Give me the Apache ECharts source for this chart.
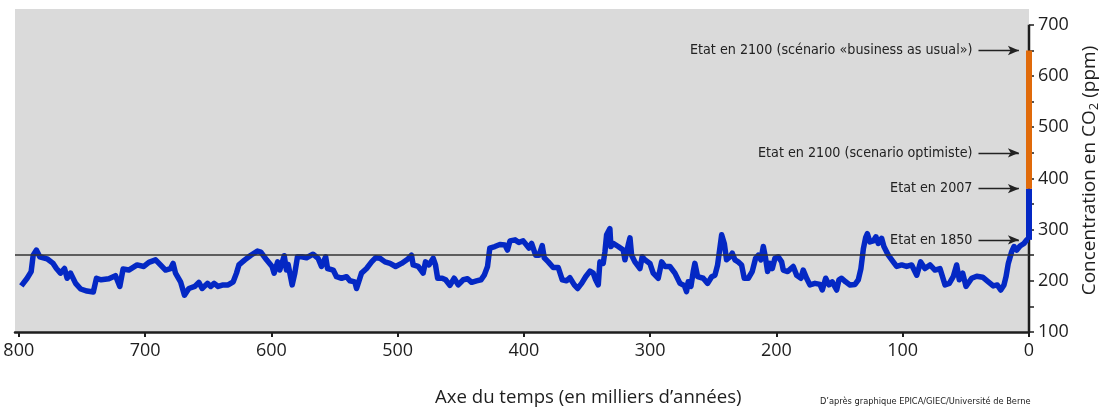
<!DOCTYPE html>
<html>
<head>
<meta charset="utf-8">
<script src="https://cdn.jsdelivr.net/npm/echarts@6/dist/echarts.min.js"></script>
<style>
html,body{margin:0;padding:0;background:#fff;}
#chart{width:1105px;height:408px;}
</style>
</head>
<body>
<div id="chart"></div>
<script>
// Age in thousands of years before present
const ageKyr = [798,793.4,790.2,788.6,786,783.4,777.6,772.8,770.2,767,763.8,761.7,759,755,751,746,741,738.5,734.8,728.7,723.4,720,717.4,712.9,706.3,701,697,691.7,687.8,683.8,679.8,677.8,675.9,671.9,668.8,
665.3,660.6,657.4,654.8,650.6,648,645.3,642.1,638.2,634.2,630.2,627.6,625.7,621,616.2,611,608.3,603.8,599.4,597.8,595,593.3,589.8,588,586.7,583.5,581.4,579.3,576,572.1,567,563,560.3,557,555.5,551,548.4,544.4,540.4,537.8,533.9,532.5,
528.6,524.6,520.6,517.5,514,510,506,501.6,496.9,492.1,489,487.7,483.7,479.8,477.9,475.2,471.8,470,468.3,464.7,462,458.6,455.2,452,448,444.6,441.4,437.5,434,431.4,428.8,427,423,419,415,413,411,407,404,400.6,
396,393.9,390.7,388,385.5,383.9,380.7,376.8,372.8,369.6,366.2,363.6,360.1,357.5,354.3,351.1,347.7,345.1,343.2,341.1,339.8,337.2,335.8,334.5,331.9,331.1,329.3,325.3,321.3,320,317.4,316,314.7,312.1,308.1,306.3,304.2,300.2,297.6,293.6,290.9,288.3,284.4,280.4,276.4,273,271.2,269.9,267.7,265.9,264.6,262.4,
258,254.5,251.3,248.7,246.6,244.8,243.4,241.3,239.5,236.8,235,232.9,230.3,227.6,225.5,222.3,219.2,216.5,214.4,212.3,210.4,208.6,207,205.1,203.3,201.2,198.6,195.9,194.6,191.1,188.5,186.7,184,180.6,178.8,176.1,173.5,169.5,165.5,163.7,161,158.4,155.8,152.3,150.5,148.4,145.2,141.8,137.8,135.2,133.1,131.2,
129.3,128,126,123.3,121.2,119.4,116.7,114.9,111.4,107.5,104.8,100.8,96.9,92.9,88.9,85.8,82.4,78.4,74.5,70.5,66.5,63.1,60,57.3,55.2,52.5,49.9,45.4,41.4,36.7,32.2,28.3,25.1,22.4,19.8,18.2,16.4,13.7,11.9,9.7,7.1,4,1.8,0];
// CO2 concentration (ppm)
const co2Ppm = [190,205,218,250,260,247,243,234,224,215,224,205,215,195,184,180,178,205,202,204,210,189,223,221,231,228,236,241,231,221,224,234,215,198,172,
185,189,197,185,195,189,195,189,192,192,198,215,231,241,250,258,256,241,228,215,237,221,249,221,232,192,215,247,247,245,252,244,228,247,224,221,208,205,208,200,198,185,
215,224,237,245,244,237,234,228,234,242,250,231,228,215,237,231,244,231,205,205,202,191,205,192,202,204,197,200,202,211,228,264,267,271,270,260,278,280,275,278,
264,273,250,250,269,245,237,226,226,202,200,206,192,185,195,208,219,215,202,192,237,234,257,290,302,267,273,267,260,241,270,284,250,237,224,247,241,234,215,205,237,228,228,215,195,191,179,198,189,218,234,208,
205,195,208,211,231,264,290,273,241,247,254,241,237,231,205,205,218,244,250,241,267,244,218,234,224,244,247,237,221,218,224,228,211,205,221,205,192,195,193,182,205,192,198,182,202,205,198,192,193,202,224,262,
285,292,276,278,286,273,283,267,250,237,228,231,228,231,211,237,224,231,221,224,192,195,208,231,202,215,189,205,209,207,198,190,192,182,192,208,234,257,267,260,268,273,280,280];

const xTicks = [0,100,200,300,400,500,600,700,800];
const yLabels = [100,200,300,400,500,600,700];
const yTicks = [100,150,200,250,300,350,400,450,500,550,600,650,700];
const referenceLevel = 250;
const presentBlue = [280,380];       // 1850 -> 2007
const scenarioOrange = [380,650];    // 2007 -> 2100 business as usual
const annotations = [
  {text:'Etat en 2100 (scénario «business as usual»)', ppm:650},
  {text:'Etat en 2100 (scenario optimiste)', ppm:450},
  {text:'Etat en 2007', ppm:380},
  {text:'Etat en 1850', ppm:280}
];
const arrowFrom = 40, arrowTo = 8;

const curve = ageKyr.map((a,i)=>[a,co2Ppm[i]]);
const narrow = "'Liberation Sans Narrow','DejaVu Sans Condensed',sans-serif";
const sans = "'Open Sans','Noto Sans',sans-serif";

const chart = echarts.init(document.getElementById('chart'), null, {renderer:'canvas'});
chart.setOption({
  animation:false,
  grid:{left:15,right:76,top:9,bottom:76,show:true,backgroundColor:'#dadada',borderWidth:0,containLabel:false,outerBoundsMode:'none'},
  xAxis:{
    type:'value', min:0, max:803, inverse:true,
    axisLine:{show:true,lineStyle:{color:'#1e1e1e',width:2.5}},
    axisTick:{show:true,customValues:xTicks,length:5,lineStyle:{color:'#1e1e1e',width:2}},
    axisLabel:{customValues:xTicks,fontFamily:sans,fontSize:18,color:'#1e1e1e',margin:10},
    splitLine:{show:false}
  },
  yAxis:{
    type:'value', min:100, max:731, position:'right',
    axisLine:{show:false},
    axisTick:{show:true,customValues:yTicks,length:5,lineStyle:{color:'#1e1e1e',width:1.5}},
    axisLabel:{customValues:yLabels,fontFamily:sans,fontSize:18,color:'#1e1e1e',margin:9},
    splitLine:{show:false},
    name:'{n|Concentration en CO}{s|2}{n| (ppm)}',
    nameLocation:'middle', nameRotate:90, nameGap:50,
    nameTextStyle:{rich:{n:{fontFamily:sans,fontSize:19,color:'#1e1e1e'},s:{fontFamily:sans,fontSize:13,color:'#1e1e1e',padding:[9,0,0,0]}}}
  },
  series:[
    {type:'line',name:'axis',data:[[0,100],[0,700]],symbol:'none',clip:false,silent:true,
      lineStyle:{color:'#1e1e1e',width:2.5},z:3,
      markLine:{silent:true,symbol:['none','arrow'],symbolSize:[7,11],
        lineStyle:{color:'#222',width:1.3,type:'solid'},
        label:{show:true,position:'start',distance:6,fontFamily:narrow,fontSize:14.2,color:'#222'},
        data:annotations.map(a=>[{coord:[arrowFrom,a.ppm],label:{formatter:a.text}},{coord:[arrowTo,a.ppm]}])
      }
    },
    {type:'line',name:'ref',data:[],symbol:'none',
      markLine:{silent:true,symbol:['none','none'],label:{show:false},
        lineStyle:{color:'#333',width:1.5,type:'solid'},data:[{yAxis:referenceLevel}]}},
    {type:'line',name:'co2',data:curve,symbol:'none',clip:false,
      lineStyle:{color:'#0428c4',width:5.5,join:'round'},z:4},
    {type:'line',name:'blue',data:[[0,presentBlue[0]],[0,presentBlue[1]]],symbol:'none',clip:false,
      lineStyle:{color:'#0428c4',width:6,cap:'butt'},z:5},
    {type:'line',name:'orange',data:[[0,scenarioOrange[0]],[0,scenarioOrange[1]]],symbol:'none',clip:false,
      lineStyle:{color:'#e06a0a',width:6,cap:'butt'},z:5}
  ],
  graphic:[
    {type:'text',left:435,top:388,style:{text:'Axe du temps (en milliers d’années)',font:"18.6px 'Open Sans'",fill:'#1e1e1e'}},
    {type:'text',left:820,top:397,style:{text:'D’après graphique EPICA/GIEC/Université de Berne',font:"9.2px 'Liberation Sans Narrow','DejaVu Sans Condensed'",fill:'#222'}}
  ]
});
</script>
</body>
</html>
